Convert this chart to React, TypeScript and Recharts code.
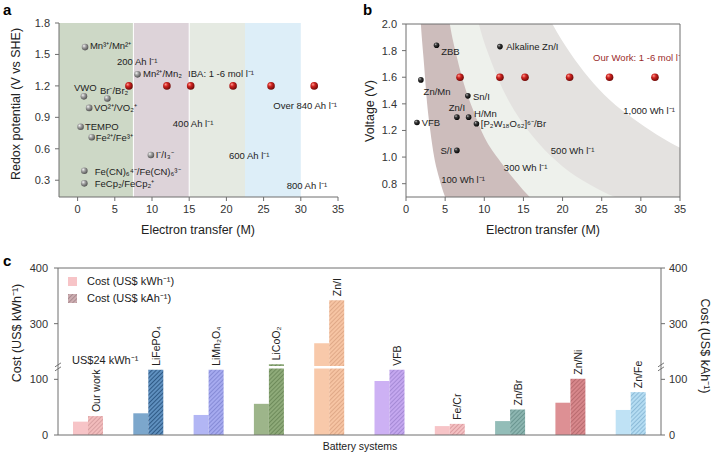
import React from "react";
import {
  ScatterChart,
  Scatter,
  ComposedChart,
  Area,
  BarChart,
  Bar,
  Cell,
  LabelList,
  XAxis,
  YAxis,
  ReferenceArea,
  ReferenceLine,
} from "recharts";

const FONT = '"Liberation Sans", Arial, Helvetica, sans-serif';
const AXIS = "#6e6e6e";
const TICK = { fill: "#333", fontSize: 11, fontFamily: FONT };

// ---------- panel a: redox potential vs electron transfer ----------
const ticksAX = [0, 5, 10, 15, 20, 25, 30, 35];
const ticksAY = [0.3, 0.6, 0.9, 1.2, 1.5, 1.8];
const bandEdgesA = [-2.5, 7.5, 15, 22.5, 30];
const bandColorsA = ["#cdd8c6", "#ddd3d9", "#e5eae2", "#ddeef8"];
const coupleX = [1.0, 8.05, 0.85, 4.0, 1.55, 0.4, 1.9, 9.85, 0.9, 0.9];
const coupleY = [1.57, 1.31, 1.1, 1.08, 0.99, 0.81, 0.71, 0.54, 0.39, 0.27];
const ourWorkX = [6.9, 12, 15.2, 20.9, 26, 31.8];
const ourWorkPotential = [1.2, 1.2, 1.2, 1.2, 1.2, 1.2];
const notesAText = [
  "Mn³⁺/Mn²⁺", "200 Ah l⁻¹", "Mn²⁺/Mn₂", "IBA: 1 -6 mol l⁻¹", "VWO", "Br⁻/Br₂",
  "VO²⁺/VO₂⁺", "Over 840 Ah l⁻¹", "TEMPO", "400 Ah l⁻¹", "Fe²⁺/Fe³⁺", "I⁻/I₃⁻",
  "600 Ah l⁻¹", "Fe(CN)₆⁴⁻/Fe(CN)₆³⁻", "FeCp₂/FeCp₂⁺", "800 Ah l⁻¹",
];
const notesAX = [1.65, 5.3, 8.8, 14.85, -0.5, 3.0, 2.2, 26.3, 0.98, 12.8, 2.45, 10.5, 20.35, 2.3, 2.3, 28.1];
const notesAY = [1.59, 1.43, 1.32, 1.32, 1.18, 1.157, 0.99, 1.01, 0.81, 0.84, 0.71, 0.543, 0.536, 0.386, 0.27, 0.25];

// ---------- panel b: voltage vs electron transfer ----------
const ticksBX = [0, 5, 10, 15, 20, 25, 30, 35];
const ticksBY = [0.8, 1.0, 1.2, 1.4, 1.6, 1.8, 2.0];
const systemBX = [3.9, 12.0, 1.9, 7.9, 6.5, 8.0, 9.0, 1.4, 6.5];
const systemBV = [1.84, 1.83, 1.58, 1.46, 1.3, 1.3, 1.25, 1.26, 1.05];
const ourWorkVoltage = [1.6, 1.6, 1.6, 1.6, 1.6, 1.6];
const notesBText = [
  "ZBB", "Alkaline Zn/I", "Zn/Mn", "Sn/I", "Zn/I", "H/Mn", "[P₂W₁₈O₆₂]⁶⁻/Br", "VFB", "S/I",
  "100 Wh l⁻¹", "300 Wh l⁻¹", "500 Wh l⁻¹", "1,000 Wh l⁻¹",
];
const notesBX = [4.5, 12.8, 2.25, 8.55, 5.45, 8.7, 9.55, 2.0, 4.4, 4.5, 12.5, 18.5, 27.75];
const notesBV = [1.79, 1.83, 1.49, 1.455, 1.37, 1.33, 1.25, 1.26, 1.05, 0.83, 0.92, 1.05, 1.35];
// iso-energy boundaries
const e100X = [0, 1.55, 1.9, 2.3, 2.7, 3.1, 3.6, 4.2, 5.0, 5.5];
const e100V = [2.4, 2.4, 2.0, 1.7, 1.4, 1.2, 1.0, 0.85, 0.7, 0.64];
const e300X = [0, 4.7, 5.6, 6.5, 7.4, 8.6, 10, 12, 14, 15.8, 17];
const e300V = [2.4, 2.4, 2.0, 1.75, 1.55, 1.35, 1.15, 0.97, 0.82, 0.7, 0.64];
const e500X = [0, 7.8, 9.3, 11, 12.7, 14.6, 17, 20, 23.3, 26.7, 28];
const e500V = [2.4, 2.4, 2.0, 1.7, 1.47, 1.28, 1.1, 0.93, 0.8, 0.7, 0.67];
const e1000X = [0, 15.5, 18.7, 21, 23.3, 26, 29, 32, 35];
const e1000V = [2.4, 2.4, 2.0, 1.78, 1.6, 1.43, 1.29, 1.17, 1.07];

// ---------- panel c: cost ----------
const systemsC = ["Our work", "LiFePO₄", "LiMn₂O₄", "LiCoO₂", "Zn/I", "VFB", "Fe/Cr", "Zn/Br", "Zn/Ni", "Zn/Fe"];
const costKWh = [24, 39, 36, 56, 265, 97, 16, 25, 58, 45];
const costKAh = [34, 117, 117, 127, 342, 117, 20, 46, 101, 77];
const solidColors = ["#f7c4c7", "#7ca7cc", "#b2b6f4", "#9db58a", "#f8c9aa", "#cdb1f4", "#f7c4c7", "#93bdb8", "#dd9094", "#bfe2f5"];
const hatchBase = ["#f2bcbc", "#5f90bf", "#a6aaef", "#8eaa79", "#f6c4a3", "#c4a7ef", "#f4c0c2", "#8cb5b0", "#d7878b", "#b4dcf2"];
const hatchLine = ["#d8a0a2", "#2f5a86", "#868bd6", "#6e8b5b", "#e0a988", "#a68bd6", "#dc9ca1", "#6b9691", "#b96c70", "#8dbbd8"];
const costTicks = [0, 100, 200, 300];
const costTickLabels = ["0", "100", "300", "400"];
const BREAK_AT = 121.5;

const toAxis = (v: number) => (v > 200 ? v - 100 : v);

const pts = (xs: number[], ys: number[], key = "y") => xs.map((x, i) => ({ x, [key]: ys[i] }));
const notes = (xs: number[], ys: number[], t: string[], key = "y") => xs.map((x, i) => ({ x, [key]: ys[i], t: t[i] }));

const sphere = (id: string, r: number) => (p: any) => <circle cx={p.cx} cy={p.cy} r={r} fill={`url(#${id})`} />;
const noteShape = (size: number, color = "#222") => (p: any) => (
  <text x={p.cx} y={p.cy} fontSize={size} fill={color} dominantBaseline="central" fontFamily={FONT}>
    {p.payload.t}
  </text>
);

function Defs() {
  return (
    <svg width={0} height={0} style={{ position: "absolute" }}>
      <defs>
        <radialGradient id="sphGrey" cx="0.4" cy="0.38" r="0.65" fx="0.33" fy="0.3">
          <stop offset="0%" stopColor="#f4f4f4" />
          <stop offset="40%" stopColor="#a4a4a4" />
          <stop offset="100%" stopColor="#4c4c4c" />
        </radialGradient>
        <radialGradient id="sphRed" cx="0.4" cy="0.38" r="0.65" fx="0.33" fy="0.3">
          <stop offset="0%" stopColor="#ff9c90" />
          <stop offset="40%" stopColor="#cf2320" />
          <stop offset="100%" stopColor="#6a0806" />
        </radialGradient>
        <radialGradient id="sphBlack" cx="0.4" cy="0.38" r="0.65" fx="0.33" fy="0.3">
          <stop offset="0%" stopColor="#c4c4c4" />
          <stop offset="35%" stopColor="#3c3c3c" />
          <stop offset="100%" stopColor="#000" />
        </radialGradient>
        {hatchBase.map((c, i) => (
          <pattern key={i} id={`hatch${i}`} patternUnits="userSpaceOnUse" width={3} height={3} patternTransform="rotate(45)">
            <rect width={3} height={3} fill={c} />
            <line x1={0.5} y1={0} x2={0.5} y2={3} stroke={hatchLine[i]} strokeWidth={1} />
          </pattern>
        ))}
        <pattern id="hatchLegend" patternUnits="userSpaceOnUse" width={3} height={3} patternTransform="rotate(45)">
          <rect width={3} height={3} fill="#cdadb1" />
          <line x1={0.5} y1={0} x2={0.5} y2={3} stroke="#a98c90" strokeWidth={1} />
        </pattern>
      </defs>
    </svg>
  );
}

function PanelA() {
  return (
    <ScatterChart width={360} height={225} margin={{ top: 23, right: 22, bottom: 0, left: 0 }}>
      {bandColorsA.map((c, i) => (
        <ReferenceArea key={i} x1={bandEdgesA[i]} x2={bandEdgesA[i + 1]} fill={c} fillOpacity={1} stroke="none" />
      ))}
      <ReferenceLine x={7.5} stroke="#fff" strokeWidth={1} />
      <ReferenceLine x={15} stroke="#fff" strokeWidth={1} />
      <XAxis
        type="number"
        dataKey="x"
        domain={[-2.5, 35]}
        ticks={ticksAX}
        height={28}
        tick={TICK}
        tickSize={4}
        tickMargin={4}
        stroke={AXIS}
      />
      <YAxis
        type="number"
        dataKey="y"
        domain={[0.14, 1.8]}
        ticks={ticksAY}
        width={59}
        tick={TICK}
        tickSize={4}
        tickMargin={5}
        tickFormatter={(v: number) => v.toFixed(1)}
        stroke={AXIS}
      />
      <Scatter data={pts(coupleX, coupleY)} shape={sphere("sphGrey", 3.3)} isAnimationActive={false} />
      <Scatter data={pts(ourWorkX, ourWorkPotential)} shape={sphere("sphRed", 3.8)} isAnimationActive={false} />
      <Scatter data={notes(notesAX, notesAY, notesAText)} shape={noteShape(9.5)} isAnimationActive={false} />
    </ScatterChart>
  );
}

function PanelB() {
  const curve = (xs: number[], vs: number[]) => pts(xs, vs, "v");
  return (
    <ComposedChart width={356} height={225} margin={{ top: 24, right: 36, bottom: 0, left: 0 }}>
      <XAxis
        type="number"
        dataKey="x"
        domain={[0, 35]}
        ticks={ticksBX}
        allowDataOverflow
        height={28}
        tick={TICK}
        tickSize={4}
        tickMargin={4}
        stroke={AXIS}
      />
      <YAxis
        type="number"
        dataKey="v"
        domain={[0.7, 2.0]}
        ticks={ticksBY}
        allowDataOverflow
        width={46}
        tick={TICK}
        tickSize={4}
        tickMargin={5}
        tickFormatter={(v: number) => v.toFixed(1)}
        stroke={AXIS}
      />
      <Area data={curve(e1000X, e1000V)} dataKey="v" type="monotone" stroke="none" fill="#e4e2e0" fillOpacity={1} isAnimationActive={false} />
      <Area data={curve(e500X, e500V)} dataKey="v" type="monotone" stroke="none" fill="#eef1ec" fillOpacity={1} isAnimationActive={false} />
      <Area data={curve(e300X, e300V)} dataKey="v" type="monotone" stroke="none" fill="#cdbdbc" fillOpacity={1} isAnimationActive={false} />
      <Area data={curve(e100X, e100V)} dataKey="v" type="monotone" stroke="none" fill="#ffffff" fillOpacity={1} isAnimationActive={false} />
      <ReferenceLine y={2.0} stroke={AXIS} />
      <ReferenceLine x={35} stroke={AXIS} />
      <Scatter data={pts(systemBX, systemBV, "v")} dataKey="v" shape={sphere("sphBlack", 2.8)} isAnimationActive={false} />
      <Scatter data={pts(ourWorkX, ourWorkVoltage, "v")} dataKey="v" shape={sphere("sphRed", 3.8)} isAnimationActive={false} />
      <Scatter data={notes(notesBX, notesBV, notesBText, "v")} dataKey="v" shape={noteShape(9.5)} isAnimationActive={false} />
      <Scatter data={notes([23.9], [1.75], ["Our Work: 1 -6 mol l⁻¹"], "v")} dataKey="v" shape={noteShape(9.5, "#9a2b2b")} isAnimationActive={false} />
    </ComposedChart>
  );
}

function BreakMarks(props: any) {
  const vb = props.viewBox || {};
  const y = vb.y;
  const xs = [vb.x, vb.x + vb.width];
  return (
    <g>
      {xs.map((x: number, i: number) => (
        <g key={i} stroke="#666" strokeWidth={0.9}>
          <line x1={x - 3} y1={y - 0.5} x2={x + 3} y2={y - 4.5} />
          <line x1={x - 3} y1={y + 3.5} x2={x + 3} y2={y - 0.5} />
        </g>
      ))}
    </g>
  );
}

function BarName(props: any) {
  const { x, y, width, index } = props;
  return (
    <text
      transform={`translate(${x + width / 2},${y - 4}) rotate(-90)`}
      textAnchor="start"
      dominantBaseline="central"
      fontSize={10.5}
      fill="#222"
      fontFamily={FONT}
    >
      {systemsC[index]}
    </text>
  );
}

function PanelC() {
  const data = systemsC.map((name, i) => ({ name, kwh: toAxis(costKWh[i]), kah: toAxis(costKAh[i]) }));
  const fmt = (v: number) => costTickLabels[costTicks.indexOf(v)] ?? String(v);
  return (
    <BarChart width={716} height={204} data={data} margin={{ top: 18, right: 0, bottom: 0, left: 0 }} barGap={0}>
      <XAxis dataKey="name" tick={false} height={19} stroke={AXIS} tickLine={false} />
      <YAxis
        yAxisId="left"
        domain={[0, 300]}
        ticks={costTicks}
        allowDataOverflow
        width={58}
        tick={TICK}
        tickSize={4}
        tickMargin={6}
        tickFormatter={fmt}
        stroke={AXIS}
      />
      <YAxis
        yAxisId="right"
        orientation="right"
        domain={[0, 300]}
        ticks={costTicks}
        allowDataOverflow
        width={55}
        tick={TICK}
        tickSize={4}
        tickMargin={4}
        tickFormatter={fmt}
        stroke={AXIS}
      />
      <ReferenceLine yAxisId="left" y={300} stroke={AXIS} />
      <Bar yAxisId="left" dataKey="kwh" barSize={15} isAnimationActive={false}>
        {data.map((_, i) => (
          <Cell key={i} fill={solidColors[i]} />
        ))}
      </Bar>
      <Bar yAxisId="left" dataKey="kah" barSize={15} isAnimationActive={false}>
        {data.map((_, i) => (
          <Cell key={i} fill={`url(#hatch${i})`} />
        ))}
        <LabelList dataKey="name" content={BarName} />
      </Bar>
      <ReferenceLine yAxisId="left" y={BREAK_AT} stroke="#fff" strokeWidth={2.5} label={(p: any) => <BreakMarks {...p} />} />
    </BarChart>
  );
}

const abs = (left: number, top: number, extra: React.CSSProperties = {}): React.CSSProperties => ({
  position: "absolute",
  left,
  top,
  ...extra,
});

const titleStyle: React.CSSProperties = { fontSize: 12.5, color: "#222", whiteSpace: "nowrap", lineHeight: 1 };

function Rotated({ cx, cy, text, deg }: { cx: number; cy: number; text: string; deg: number }) {
  return (
    <div style={abs(cx, cy, { ...titleStyle, transform: `translate(-50%,-50%) rotate(${deg}deg)` })}>{text}</div>
  );
}

export default function App() {
  return (
    <div
      style={{
        position: "absolute",
        left: 0,
        top: 0,
        width: 716,
        height: 454,
        background: "#fff",
        overflow: "hidden",
        fontFamily: FONT,
      }}
    >
      <Defs />
      <div style={abs(0, 0)}>
        <PanelA />
      </div>
      <div style={abs(360, 0)}>
        <PanelB />
      </div>
      <div style={abs(0, 250)}>
        <PanelC />
      </div>

      <div style={abs(3, 1, { fontSize: 15, fontWeight: 700 })}>a</div>
      <div style={abs(363, 1, { fontSize: 15, fontWeight: 700 })}>b</div>
      <div style={abs(3, 252, { fontSize: 15, fontWeight: 700 })}>c</div>

      <Rotated cx={16} cy={104} text="Redox potential (V vs SHE)" deg={-90} />
      <Rotated cx={370} cy={111} text="Voltage (V)" deg={-90} />
      <Rotated cx={198} cy={230} text="Electron transfer (M)" deg={0} />
      <Rotated cx={543} cy={230} text="Electron transfer (M)" deg={0} />
      <Rotated cx={17} cy={333} text="Cost (US$ kWh⁻¹)" deg={-90} />
      <Rotated cx={705} cy={346} text="Cost (US$ kAh⁻¹)" deg={90} />
      <div style={abs(360, 446, { ...titleStyle, fontSize: 10.5, transform: "translate(-50%,-50%)" })}>Battery systems</div>

      <div style={abs(72, 352, { fontSize: 11, color: "#222", whiteSpace: "nowrap" })}>US$24 kWh⁻¹</div>

      <div style={abs(68, 277, { width: 9, height: 9, background: solidColors[0] })} />
      <div style={abs(87, 276, { fontSize: 11, color: "#222", whiteSpace: "nowrap", lineHeight: "11px" })}>Cost (US$ kWh⁻¹)</div>
      <svg style={abs(68, 294)} width={9} height={9}>
        <rect width={9} height={9} fill="url(#hatchLegend)" />
      </svg>
      <div style={abs(87, 293, { fontSize: 11, color: "#222", whiteSpace: "nowrap", lineHeight: "11px" })}>Cost (US$ kAh⁻¹)</div>
    </div>
  );
}
